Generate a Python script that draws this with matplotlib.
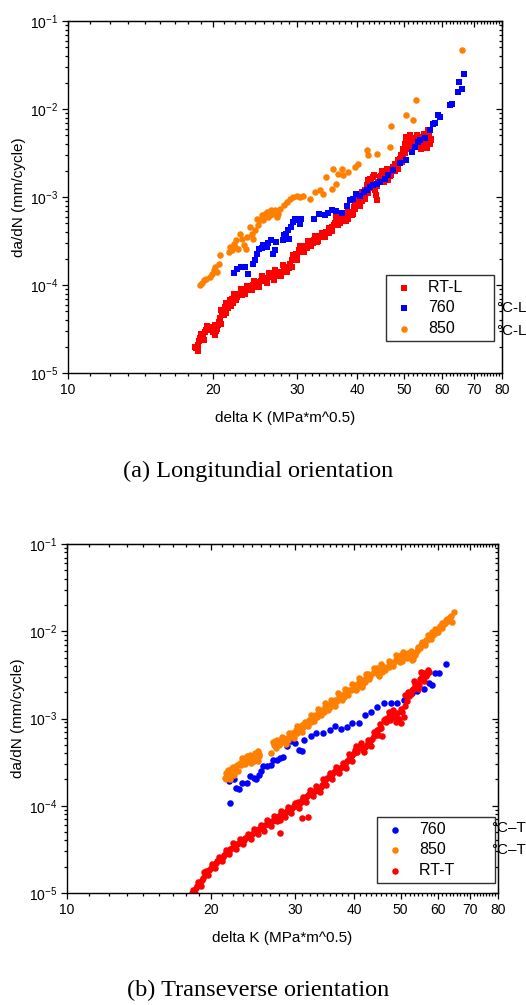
import matplotlib
matplotlib.use('Agg')
import matplotlib.pyplot as plt
from matplotlib.ticker import FixedLocator, FixedFormatter, LogLocator, NullFormatter

plt.rcParams['font.family'] = ['Liberation Sans', 'DejaVu Sans']
plt.rcParams['mathtext.fontset'] = 'custom'
plt.rcParams['mathtext.rm'] = 'Liberation Sans'
plt.rcParams['mathtext.it'] = 'Liberation Sans:italic'
plt.rcParams['mathtext.bf'] = 'Liberation Sans:bold'

# ---------------- data: (a) longitudinal ----------------
rtl_K = [18.5, 18.6, 18.8, 19.0, 19.3, 19.6, 20.1, 20.4, 20.6, 20.9, 21.2, 21.7, 22.3, 22.8, 23.5, 24.3,
         24.9, 25.5, 26.3, 27.2, 28.1, 28.5, 29.0, 29.5, 30.2, 30.9, 31.9, 32.9, 33.7, 34.5, 35.4, 36.2,
         37.1, 38.0, 38.9, 39.3, 40.2, 41.2, 41.8, 42.5, 43.2, 43.5, 43.9, 44.6, 45.3, 46.4, 47.1, 48.3,
         49.0, 49.8, 50.6, 51.4, 52.3, 53.1, 54.0, 54.8, 56.2, 57.0,
         18.4, 18.7, 18.9, 19.1, 19.4, 19.8, 20.0, 20.3, 20.5, 20.7, 21.0, 21.1, 21.4, 21.5, 21.9, 22.0,
         22.5, 22.6, 23.0, 23.2, 23.8, 24.0, 24.6, 24.7, 25.2, 25.8, 26.0, 26.6, 26.9, 27.5, 27.8, 28.3,
         28.8, 29.2, 29.8, 30.0, 30.5, 30.6, 31.3, 31.5, 32.3, 32.5, 33.2, 33.4, 34.0, 34.2, 34.9, 35.0,
         35.8, 36.0, 36.6, 36.8, 37.4, 37.6, 38.3, 38.5, 39.0, 39.6, 39.8, 40.5, 40.7, 41.0, 41.5, 42.0,
         42.2, 42.8, 43.0, 43.7, 44.2, 44.9, 45.6, 46.0, 46.8, 47.5, 47.8, 48.6, 48.7, 49.4, 49.5, 50.2,
         50.3, 50.9, 51.0, 51.8, 52.0, 52.7, 53.5, 54.4, 55.2, 55.5, 55.8, 56.5, 56.8,
         18.6, 19.2, 19.5, 20.2, 20.2, 20.8, 20.8, 21.3, 21.3, 21.8, 22.1, 22.4, 22.9, 23.4, 23.6, 24.2,
         24.4, 25.0, 25.3, 25.9, 26.2, 26.8, 27.0, 27.7, 28.0, 28.6, 29.2, 29.4, 30.0, 30.4, 31.0, 31.6,
         32.0, 32.7, 33.0, 33.8, 34.3, 35.0, 35.5, 36.2, 36.4, 37.0, 37.8, 38.2, 39.2, 39.5, 40.0, 40.9,
         41.4, 42.0, 42.6, 43.4, 44.0, 45.0, 45.5, 46.2, 47.0, 47.8, 48.5, 49.2, 49.9, 50.5, 50.8, 51.5,
         52.5, 53.3, 54.2, 55.0, 56.0, 56.6]
rtl_y = [1.9e-5, 2.1e-5, 2.5e-5, 2.7e-5, 2.9e-5, 3.05e-5, 3.05e-5, 3.2e-5, 3.8e-5, 4.7e-5, 5.6e-5, 6.7e-5,
         7.6e-5, 8.0e-5, 9.1e-5, 9.9e-5, 1.08e-4, 1.18e-4, 1.23e-4, 1.35e-4, 1.53e-4, 1.6e-4, 1.75e-4,
         2.08e-4, 2.48e-4, 2.7e-4, 3.08e-4, 3.36e-4, 3.51e-4, 4.0e-4, 4.56e-4, 5.43e-4, 5.43e-4, 5.93e-4,
         6.76e-4, 7.7e-4, 9.16e-4, 1.09e-3, 1.36e-3, 1.62e-3, 1.69e-3, 1.19e-3, 9.2e-4, 1.69e-3, 1.84e-3,
         1.55e-3, 2.01e-3, 2.39e-3, 2.73e-3, 3.54e-3, 4.4e-3, 4.6e-3, 3.7e-3, 4.4e-3, 4.8e-3, 3.7e-3,
         5.5e-3, 4.6e-3,
         2.0e-5, 2.3e-5, 2.8e-5, 2.6e-5, 3.1e-5, 3.3e-5, 2.9e-5, 3.0e-5, 3.5e-5, 4.2e-5, 5.0e-5, 4.6e-5,
         6.0e-5, 5.5e-5, 7.0e-5, 6.3e-5, 7.3e-5, 8.0e-5, 7.6e-5, 8.6e-5, 8.8e-5, 9.6e-5, 9.6e-5, 1.05e-4,
         1.1e-4, 1.13e-4, 1.2e-4, 1.28e-4, 1.25e-4, 1.4e-4, 1.38e-4, 1.48e-4, 1.58e-4, 1.9e-4, 2.25e-4,
         2.1e-4, 2.6e-4, 2.35e-4, 2.8e-4, 2.6e-4, 3.0e-4, 3.25e-4, 3.2e-4, 3.6e-4, 3.5e-4, 3.8e-4, 4.2e-4,
         3.9e-4, 4.8e-4, 5.0e-4, 5.8e-4, 5.1e-4, 5.7e-4, 6.1e-4, 5.6e-4, 6.4e-4, 6.2e-4, 7.3e-4, 8.3e-4,
         8.0e-4, 1.0e-3, 9.0e-4, 1.2e-3, 1.1e-3, 1.45e-3, 1.5e-3, 1.3e-3, 1.05e-3, 1.5e-3, 1.75e-3, 1.65e-3,
         1.9e-3, 1.75e-3, 2.2e-3, 1.95e-3, 2.2e-3, 2.6e-3, 3.0e-3, 2.5e-3, 4.0e-3, 3.2e-3, 3.8e-3, 4.7e-3,
         4.2e-3, 3.4e-3, 4.1e-3, 3.9e-3, 4.3e-3, 4.0e-3, 4.9e-3, 3.6e-3, 5.2e-3, 4.5e-3,
         1.8e-5, 2.4e-5, 3.4e-5, 2.7e-5, 3.5e-5, 3.6e-5, 5.2e-5, 4.8e-5, 6.3e-5, 5.8e-5, 7.8e-5, 6.7e-5,
         8.9e-5, 7.9e-5, 9.8e-5, 8.7e-5, 1.1e-4, 9.5e-5, 1.25e-4, 1.06e-4, 1.36e-4, 1.15e-4, 1.48e-4,
         1.25e-4, 1.7e-4, 1.42e-4, 1.62e-4, 2.2e-4, 1.9e-4, 2.75e-4, 2.4e-4, 3.2e-4, 2.75e-4, 3.6e-4,
         3.05e-4, 3.9e-4, 3.5e-4, 4.5e-4, 4.1e-4, 6.0e-4, 4.8e-4, 6.2e-4, 5.3e-4, 6.8e-4, 6.4e-4, 8.6e-4,
         7.8e-4, 1.15e-3, 9.5e-4, 1.55e-3, 1.25e-3, 1.8e-3, 1.35e-3, 1.95e-3, 1.5e-3, 2.1e-3, 1.8e-3,
         2.4e-3, 2.1e-3, 2.9e-3, 3.0e-3, 4.8e-3, 3.5e-3, 5.0e-3, 4.7e-3, 5.0e-3, 3.5e-3, 5.2e-3, 5.8e-3,
         4.0e-3]

b760l_K = [22.2, 22.5, 22.9, 23.4, 23.7, 24.3, 24.5, 24.7, 25.0, 25.3, 25.5, 25.9, 26.1, 26.5, 26.7, 26.9,
           27.1, 28.0, 28.1, 28.4, 28.7, 28.9, 29.1, 29.4, 29.7, 30.0, 30.4, 30.6, 32.5, 33.3, 34.2, 34.8,
           35.5, 36.2, 37.1, 38.0, 38.6, 39.2, 39.8, 40.5, 41.2, 41.8, 42.5, 43.2, 43.9, 44.6, 45.6, 46.4,
           47.5, 49.0, 50.6, 51.9, 52.7, 53.5, 54.0, 55.3, 56.6, 57.5, 57.9, 58.9, 59.4, 62.3, 62.9, 64.8,
           65.9, 65.1, 66.6]
b760l_y = [1.37e-4, 1.53e-4, 1.6e-4, 1.6e-4, 1.32e-4, 1.75e-4, 1.91e-4, 2.27e-4, 2.59e-4, 2.66e-4, 2.83e-4,
           2.7e-4, 3.0e-4, 3.22e-4, 2.27e-4, 2.52e-4, 3.08e-4, 3.22e-4, 3.67e-4, 3.83e-4, 4.18e-4, 3.36e-4,
           4.56e-4, 5.2e-4, 5.67e-4, 5.43e-4, 4.98e-4, 5.67e-4, 5.62e-4, 6.46e-4, 6.18e-4, 6.57e-4, 7.18e-4,
           6.93e-4, 6.57e-4, 7.84e-4, 9.16e-4, 9.57e-4, 1.09e-3, 1.04e-3, 1.14e-3, 1.19e-3, 1.3e-3, 1.36e-3,
           1.42e-3, 1.48e-3, 1.62e-3, 1.76e-3, 2.04e-3, 2.43e-3, 2.66e-3, 3.24e-3, 3.7e-3, 4.21e-3, 4.4e-3,
           4.72e-3, 5.72e-3, 6.7e-3, 6.93e-3, 8.48e-3, 8.12e-3, 1.1e-2, 1.15e-2, 1.56e-2, 1.7e-2, 2.03e-2,
           2.52e-2]

o850l_K = [18.8, 19.0, 19.2, 19.4, 19.7, 19.9, 20.1, 20.2, 20.4, 20.6, 20.7, 21.6, 21.7, 21.9, 22.1, 22.3,
           22.4, 22.6, 22.8, 23.0, 23.2, 23.5, 23.6, 23.9, 24.1, 24.3, 24.5, 24.7, 24.9, 25.1, 25.3, 25.5,
           25.7, 25.9, 26.1, 26.3, 26.5, 26.8, 27.0, 27.2, 27.4, 27.6, 28.1, 28.5, 29.0, 29.4, 29.9, 30.4,
           30.9, 31.9, 32.7, 33.4, 34.0, 34.5, 35.4, 35.6, 36.1, 36.5, 37.1, 37.4, 38.3, 39.5, 40.2, 41.8,
           42.1, 43.9, 46.7, 47.1, 50.6, 52.3, 53.1, 65.9]
o850l_y = [1.0e-4, 1.05e-4, 1.13e-4, 1.18e-4, 1.23e-4, 1.35e-4, 1.47e-4, 1.6e-4, 1.4e-4, 1.75e-4, 2.17e-4,
           2.37e-4, 2.7e-4, 2.48e-4, 2.95e-4, 2.7e-4, 3.22e-4, 2.59e-4, 3.83e-4, 3.36e-4, 2.83e-4, 2.59e-4,
           3.51e-4, 4.56e-4, 3.83e-4, 3.36e-4, 4.18e-4, 5.67e-4, 4.76e-4, 5.43e-4, 6.18e-4, 5.43e-4, 6.46e-4,
           6.76e-4, 5.93e-4, 6.18e-4, 7.06e-4, 6.46e-4, 7.06e-4, 5.93e-4, 6.46e-4, 7.37e-4, 8.05e-4, 8.78e-4,
           9.57e-4, 1.0e-3, 1.04e-3, 1.0e-3, 1.04e-3, 9.57e-4, 1.14e-3, 1.19e-3, 1.09e-3, 1.69e-3, 1.24e-3,
           2.1e-3, 1.42e-3, 1.84e-3, 2.1e-3, 1.76e-3, 1.92e-3, 2.19e-3, 2.39e-3, 3.39e-3, 2.97e-3, 3.05e-3,
           3.7e-3, 6.35e-3, 8.48e-3, 7.44e-3, 1.25e-2, 4.72e-2]

# ---------------- data: (b) transverse ----------------
b760t_K = [21.8, 22.0, 22.4, 22.6, 22.9, 23.3, 23.8, 24.2, 24.6, 24.9, 25.2, 25.5, 25.8, 26.2, 26.7, 27.0,
           27.5, 27.9, 28.4, 28.9, 29.4, 29.8, 30.1, 30.6, 31.1, 31.4, 32.4, 33.3, 34.4, 35.5, 36.5, 37.5,
           38.6, 39.6, 40.9, 42.2, 43.4, 44.6, 46.1, 47.8, 49.2, 50.8, 52.8, 54.1, 55.9, 57.3, 58.2, 59.1,
           60.1, 62.1]
b760t_y = [1.9e-4, 1.07e-4, 2.02e-4, 1.59e-4, 1.55e-4, 1.82e-4, 1.82e-4, 2.17e-4, 2.07e-4, 2.02e-4, 2.26e-4,
           2.47e-4, 2.82e-4, 2.87e-4, 2.95e-4, 3.36e-4, 3.31e-4, 3.51e-4, 3.61e-4, 4.78e-4, 5.45e-4, 5.96e-4,
           5.2e-4, 4.38e-4, 4.19e-4, 5.7e-4, 6.22e-4, 6.79e-4, 6.79e-4, 7.29e-4, 8.1e-4, 7.55e-4, 7.96e-4,
           8.84e-4, 8.98e-4, 1.1e-3, 1.18e-3, 1.37e-3, 1.5e-3, 1.5e-3, 1.52e-3, 1.64e-3, 1.95e-3, 2.04e-3,
           2.17e-3, 2.54e-3, 2.39e-3, 3.31e-3, 3.36e-3, 4.23e-3]

o850t_K = [21.4, 21.5, 21.6, 21.8, 22.0, 22.2, 22.4, 22.7, 23.0, 23.5, 23.8, 24.0, 24.2, 24.6, 24.8, 25.1,
           25.3, 26.8, 27.0, 27.3, 27.8, 28.2, 28.7, 28.9, 29.4, 29.8, 30.2, 30.7, 31.1, 31.6, 32.1, 32.6,
           33.1, 33.7, 34.2, 34.8, 35.3, 35.9, 36.5, 37.1, 37.7, 38.3, 38.9, 39.9, 40.5, 41.2, 41.8, 42.4,
           43.2, 44.3, 45.0, 45.7, 46.8, 47.6, 48.4, 49.2, 50.0, 50.8, 51.8, 52.8, 53.7, 54.3, 55.2, 56.4,
           57.3, 58.2, 59.1, 60.1, 61.1, 62.1, 63.4, 64.1, 64.8,
           21.5, 21.7, 21.9, 22.1, 22.3, 22.6, 23.2, 23.6, 24.1, 24.4, 24.7, 25.0, 25.2, 27.2, 27.6, 28.0,
           28.4, 29.0, 29.6, 30.0, 30.4, 30.9, 31.3, 31.9, 32.4, 32.9, 33.4, 34.0, 34.5, 35.0, 35.6, 36.2,
           36.8, 37.4, 38.0, 38.6, 39.3, 40.2, 40.9, 41.5, 42.1, 42.8, 43.7, 44.6, 45.3, 46.1, 47.2, 48.0,
           48.8, 49.6, 50.4, 51.3, 52.3, 53.2, 54.0, 54.8, 55.8, 56.8, 57.8, 58.6, 59.6, 60.6, 61.6, 62.6,
           63.8,
           22.0, 22.8, 23.3, 24.3, 24.9, 25.1, 27.4, 28.2, 28.8, 29.2, 29.9, 30.4, 31.0, 31.5, 32.0, 32.5,
           33.0, 33.6, 34.1, 34.7, 35.2, 35.8, 36.4, 37.0, 37.6, 38.2, 38.8, 39.6, 40.4, 41.0, 41.6, 42.3,
           43.0, 44.0, 44.8, 45.5, 46.4, 47.3, 48.1, 49.0, 49.8, 50.6, 51.6, 52.6, 53.5, 54.5, 55.4, 56.2,
           57.1, 58.0, 59.0, 60.0, 61.0, 62.0, 63.0]
o850t_y = [2.07e-4, 2.37e-4, 2.17e-4, 2.47e-4, 2.37e-4, 2.7e-4, 2.26e-4, 2.95e-4, 3.08e-4, 3.36e-4, 3.67e-4,
           3.51e-4, 3.84e-4, 3.67e-4, 4.01e-4, 4.19e-4, 3.67e-4, 4.01e-4, 5.31e-4, 5.45e-4, 4.99e-4, 5.7e-4,
           5.45e-4, 5.96e-4, 6.22e-4, 6.5e-4, 7.42e-4, 7.75e-4, 8.46e-4, 8.84e-4, 9.66e-4, 1.05e-3, 1.1e-3,
           1.2e-3, 1.26e-3, 1.37e-3, 1.43e-3, 1.5e-3, 1.64e-3, 1.79e-3, 1.87e-3, 1.95e-3, 2.13e-3, 2.33e-3,
           2.23e-3, 2.54e-3, 2.77e-3, 2.9e-3, 3.03e-3, 3.45e-3, 3.03e-3, 3.45e-3, 3.94e-3, 4.3e-3, 4.5e-3,
           4.91e-3, 5.36e-3, 5.13e-3, 5.6e-3, 4.7e-3, 5.36e-3, 6.68e-3, 6.98e-3, 7.96e-3, 8.54e-3, 9.91e-3,
           9.5e-3, 1.08e-2, 1.23e-2, 1.35e-2, 1.47e-2, 1.29e-2, 1.68e-2,
           2.0e-4, 2.6e-4, 2.2e-4, 2.5e-4, 2.8e-4, 2.6e-4, 2.9e-4, 3.0e-4, 3.3e-4, 3.5e-4, 3.3e-4, 3.6e-4,
           3.9e-4, 5.0e-4, 5.6e-4, 5.2e-4, 5.9e-4, 5.7e-4, 6.8e-4, 7.0e-4, 6.9e-4, 7.3e-4, 8.0e-4, 8.5e-4,
           9.0e-4, 1.0e-3, 1.05e-3, 1.15e-3, 1.2e-3, 1.3e-3, 1.35e-3, 1.5e-3, 1.6e-3, 1.75e-3, 1.75e-3,
           2.0e-3, 2.1e-3, 2.4e-3, 2.6e-3, 2.4e-3, 2.6e-3, 3.2e-3, 3.3e-3, 3.8e-3, 3.6e-3, 3.9e-3, 3.9e-3,
           4.2e-3, 4.7e-3, 5.0e-3, 4.6e-3, 5.4e-3, 5.2e-3, 4.8e-3, 6.0e-3, 6.4e-3, 7.3e-3, 8.0e-3, 8.8e-3,
           9.0e-3, 1.0e-2, 1.15e-2, 1.2e-2, 1.4e-2, 1.5e-2,
           2.0e-4, 2.5e-4, 3.5e-4, 3.1e-4, 3.8e-4, 3.3e-4, 4.6e-4, 6.2e-4, 5.1e-4, 6.8e-4, 6.0e-4, 8.2e-4,
           7.0e-4, 9.2e-4, 8.2e-4, 1.1e-3, 9.4e-4, 1.3e-3, 1.1e-3, 1.5e-3, 1.25e-3, 1.65e-3, 1.4e-3, 1.95e-3,
           1.65e-3, 2.15e-3, 1.85e-3, 2.5e-3, 2.1e-3, 2.9e-3, 2.3e-3, 3.2e-3, 2.8e-3, 3.8e-3, 3.2e-3, 4.2e-3,
           3.6e-3, 4.6e-3, 4.0e-3, 5.3e-3, 4.5e-3, 5.8e-3, 5.0e-3, 5.9e-3, 5.7e-3, 6.2e-3, 7.6e-3, 7.0e-3,
           9.0e-3, 8.2e-3, 1.05e-2, 9.8e-3, 1.1e-2, 1.25e-2, 1.3e-2]

rtt_K = [18.3, 18.4, 18.7, 19.0, 19.3, 19.6, 20.0, 20.3, 20.6, 21.0, 21.3, 21.6, 22.0, 22.4, 22.7, 23.1,
         23.5, 23.8, 24.2, 24.6, 25.0, 25.4, 25.8, 26.2, 26.7, 27.1, 27.5, 28.0, 28.0, 28.4, 28.9, 29.4,
         29.9, 30.3, 30.8, 31.3, 31.8, 32.4, 32.9, 33.4, 34.0, 34.5, 35.1, 35.6, 36.2, 36.8, 37.4, 38.0,
         38.6, 39.3, 39.9, 40.5, 41.2, 41.8, 42.5, 43.2, 43.9, 44.6, 45.4, 45.7, 46.1, 46.8, 47.6, 48.4,
         49.2, 50.0, 50.8, 51.2, 52.0, 52.8, 53.7, 54.6, 55.5, 56.4, 57.3, 53.7, 28.0, 31.1, 32.0,
         18.5, 18.6, 18.9, 19.2, 19.5, 19.8, 20.1, 20.5, 20.8, 21.2, 21.5, 21.8, 22.2, 22.5, 22.9, 23.3,
         23.6, 24.0, 24.4, 24.8, 25.2, 25.6, 26.0, 26.4, 26.9, 27.3, 27.8, 28.2, 28.7, 29.1, 29.6, 30.1,
         30.5, 31.0, 31.5, 32.1, 32.6, 33.1, 33.7, 34.2, 34.8, 35.4, 35.9, 36.5, 37.1, 37.7, 38.3, 38.9,
         39.6, 40.2, 40.8, 41.5, 42.1, 42.8, 43.5, 44.2, 45.0, 46.4, 47.2, 48.0, 48.8, 49.6, 50.4, 51.6,
         52.4, 53.2, 54.1, 55.0, 55.9, 56.8,
         18.4, 18.8, 19.1, 19.4, 19.7, 20.1, 20.4, 20.8, 21.1, 21.5, 21.9, 22.3, 22.6, 23.0, 23.4, 23.9,
         24.3, 24.7, 25.1, 25.5, 25.9, 26.3, 26.8, 27.2, 27.6, 28.1, 28.6, 29.0, 29.5, 30.0, 30.6, 31.2,
         31.7, 32.3, 32.8, 33.3, 33.9, 34.4, 34.9, 35.5, 36.0, 36.7, 37.2, 37.9, 38.4, 39.0, 39.6, 40.3,
         40.6, 41.3, 42.0, 42.7, 43.3, 44.0, 44.8, 45.2, 46.6, 47.4, 48.2, 49.0, 50.2, 51.0, 51.8, 52.6,
         53.4, 54.4, 55.2, 56.0, 57.0]
rtt_y = [1.0e-5, 1.09e-5, 1.19e-5, 1.3e-5, 1.49e-5, 1.77e-5, 1.93e-5, 2.11e-5, 2.31e-5, 2.52e-5, 2.75e-5,
         2.92e-5, 3.19e-5, 3.42e-5, 3.67e-5, 3.9e-5, 4.08e-5, 4.38e-5, 4.66e-5, 4.95e-5, 5.22e-5, 5.55e-5,
         5.8e-5, 6.22e-5, 6.44e-5, 6.92e-5, 7.42e-5, 6.92e-5, 7.88e-5, 8.24e-5, 8.61e-5, 9.16e-5, 9.82e-5,
         1.03e-4, 1.07e-4, 1.12e-4, 1.28e-4, 1.4e-4, 1.46e-4, 1.52e-4, 1.66e-4, 1.82e-4, 2.07e-4, 2.26e-4,
         2.41e-4, 2.58e-4, 2.7e-4, 2.82e-4, 3.22e-4, 3.67e-4, 4.01e-4, 4.57e-4, 4.78e-4, 4.38e-4, 4.99e-4,
         5.45e-4, 6.22e-4, 7.42e-4, 7.75e-4, 6.22e-4, 9.66e-4, 1.01e-3, 9.66e-4, 1.1e-3, 1.15e-3, 8.84e-4,
         1.05e-3, 1.87e-3, 1.79e-3, 2.13e-3, 2.33e-3, 2.43e-3, 3.03e-3, 3.03e-3, 3.45e-3, 2.54e-3, 4.87e-5,
         7.2e-5, 7.4e-5,
         1.0e-5, 1.15e-5, 1.25e-5, 1.4e-5, 1.6e-5, 1.85e-5, 2.0e-5, 2.2e-5, 2.4e-5, 2.6e-5, 2.85e-5, 3.05e-5,
         3.3e-5, 3.5e-5, 3.75e-5, 4.0e-5, 4.25e-5, 4.5e-5, 4.8e-5, 5.1e-5, 5.4e-5, 5.7e-5, 6.0e-5, 6.3e-5,
         6.7e-5, 7.1e-5, 7.6e-5, 8.0e-5, 8.4e-5, 8.9e-5, 9.4e-5, 1.0e-4, 1.1e-4, 1.15e-4, 1.2e-4, 1.35e-4,
         1.43e-4, 1.49e-4, 1.6e-4, 1.74e-4, 1.95e-4, 2.15e-4, 2.33e-4, 2.5e-4, 2.64e-4, 2.76e-4, 3.0e-4,
         3.45e-4, 3.85e-4, 4.3e-4, 4.7e-4, 4.6e-4, 4.7e-4, 5.2e-4, 5.8e-4, 6.8e-4, 7.6e-4, 9.9e-4, 1.2e-3,
         1.05e-3, 9.0e-4, 1.0e-3, 1.2e-3, 1.6e-3, 1.95e-3, 2.2e-3, 2.5e-3, 2.8e-3, 3.3e-3, 3.2e-3,
         1.0e-5, 1.35e-5, 1.2e-5, 1.75e-5, 1.6e-5, 2.15e-5, 1.95e-5, 2.6e-5, 2.35e-5, 3.1e-5, 2.8e-5, 3.7e-5,
         3.2e-5, 4.2e-5, 3.6e-5, 4.7e-5, 4.2e-5, 5.4e-5, 4.7e-5, 6.0e-5, 5.2e-5, 6.8e-5, 5.8e-5, 7.7e-5,
         6.6e-5, 8.7e-5, 7.4e-5, 9.6e-5, 8.2e-5, 1.08e-4, 9.4e-5, 1.25e-4, 1.1e-4, 1.5e-4, 1.28e-4, 1.7e-4,
         1.45e-4, 2.0e-4, 1.75e-4, 2.4e-4, 2.05e-4, 2.8e-4, 2.4e-4, 3.1e-4, 2.7e-4, 3.9e-4, 3.3e-4, 4.9e-4,
         4.1e-4, 5.2e-4, 4.1e-4, 5.6e-4, 4.9e-4, 7.0e-4, 6.5e-4, 8.6e-4, 9.0e-4, 1.1e-3, 1.25e-3, 1.05e-3,
         1.3e-3, 1.4e-3, 2.0e-3, 1.9e-3, 2.7e-3, 2.2e-3, 3.4e-3, 2.7e-3, 3.6e-3]

# ---------------- axes setup ----------------
x_major = [10, 20, 30, 40, 50, 60, 70, 80]
x_labels = ['10', '20', '30', '40', '50', '60', '70', '80']
y_major = [1e-5, 1e-4, 1e-3, 1e-2, 1e-1]
y_labels = ['$10^{-5}$', '$10^{-4}$', '$10^{-3}$', '$10^{-2}$', '$10^{-1}$']
x_minor = [a + k * 10.0 / 9.0 for a in range(10, 80, 10) for k in range(1, 9)]

RED = '#FF0000'
BLUE = '#0000FF'
ORANGE = '#FF8000'
NB = '\u00a0'
SQ = 17
CI = 22

fig = plt.figure(figsize=(5.26, 10.05), dpi=100)


def style_axes(ax):
    ax.set_xscale('log')
    ax.set_yscale('log')
    ax.set_xlim(10, 80)
    ax.set_ylim(1e-5, 1e-1)
    ax.xaxis.set_major_locator(FixedLocator(x_major))
    ax.xaxis.set_major_formatter(FixedFormatter(x_labels))
    ax.xaxis.set_minor_locator(FixedLocator(x_minor))
    ax.xaxis.set_minor_formatter(NullFormatter())
    ax.yaxis.set_major_locator(FixedLocator(y_major))
    ax.yaxis.set_major_formatter(FixedFormatter(y_labels))
    ax.yaxis.set_minor_locator(LogLocator(base=10, subs=range(2, 10), numticks=20))
    ax.yaxis.set_minor_formatter(NullFormatter())
    ax.tick_params(which='major', direction='out', length=4, width=0.9, labelsize=10, pad=3)
    ax.tick_params(which='minor', direction='out', length=2.2, width=0.9)
    for s in ax.spines.values():
        s.set_linewidth(1.0)
    sx = ax.secondary_xaxis('top')
    sx.xaxis.set_major_locator(FixedLocator(x_major))
    sx.xaxis.set_minor_locator(FixedLocator(x_minor))
    sx.xaxis.set_major_formatter(NullFormatter())
    sx.xaxis.set_minor_formatter(NullFormatter())
    sx.tick_params(which='major', direction='in', length=4, width=0.9)
    sx.tick_params(which='minor', direction='in', length=2.2, width=0.9)
    sy = ax.secondary_yaxis('right')
    sy.yaxis.set_major_locator(FixedLocator(y_major))
    sy.yaxis.set_minor_locator(LogLocator(base=10, subs=range(2, 10), numticks=20))
    sy.yaxis.set_major_formatter(NullFormatter())
    sy.yaxis.set_minor_formatter(NullFormatter())
    sy.tick_params(which='major', direction='in', length=4, width=0.9)
    sy.tick_params(which='minor', direction='in', length=2.2, width=0.9)
    ax.set_xlabel('delta K (MPa*m^0.5)', fontsize=11, labelpad=10)
    ax.set_ylabel('da/dN (mm/cycle)', fontsize=11, labelpad=2.5)


leg_kw = dict(frameon=True, fancybox=False, framealpha=1, edgecolor='#303030', fontsize=11.5,
              borderpad=0.3, labelspacing=0.35, handlelength=1.6, handletextpad=0.75,
              borderaxespad=0, scatterpoints=1)

# ---- (a) ----
ax1 = fig.add_axes([68 / 526, 1 - 373 / 1005, 434 / 526, 352 / 1005])
ax1.scatter(rtl_K, rtl_y, marker='s', s=SQ, c=RED, linewidths=0, label='RT-L' + NB * 6)
ax1.scatter(b760l_K, b760l_y, marker='s', s=SQ, c=BLUE, linewidths=0, label='760')
ax1.scatter(o850l_K, o850l_y, marker='o', s=CI, c=ORANGE, linewidths=0, label='850')
style_axes(ax1)
lg1 = ax1.legend(loc='upper left', bbox_to_anchor=((386 - 68) / 434, (373 - 275) / 352), **leg_kw)
lg1.get_frame().set_linewidth(1.0)
fig.text(496 / 526, 1 - 308 / 1005, '°C-L', fontsize=11, va='center', ha='left')
fig.text(496 / 526, 1 - 331 / 1005, '°C-L', fontsize=11, va='center', ha='left')
fig.text(258 / 526, 1 - 471 / 1005, '(a) Longitundial orientation', fontsize=17.5,
         family='Liberation Serif', ha='center', va='center')

# ---- (b) ----
ax2 = fig.add_axes([67 / 526, 1 - 893 / 1005, 431 / 526, 349 / 1005])
ax2.scatter(b760t_K, b760t_y, marker='o', s=CI, c=BLUE, linewidths=0, label='760')
ax2.scatter(o850t_K, o850t_y, marker='o', s=CI, c=ORANGE, linewidths=0, label='850')
ax2.scatter(rtt_K, rtt_y, marker='o', s=CI, c=RED, linewidths=0, label='RT-T' + NB * 8)
style_axes(ax2)
lg2 = ax2.legend(loc='upper left', bbox_to_anchor=((377 - 67) / 431, (893 - 817) / 349), **leg_kw)
lg2.get_frame().set_linewidth(1.0)
fig.text(491 / 526, 1 - 828 / 1005, '°C–T', fontsize=11, va='center', ha='left')
fig.text(491 / 526, 1 - 850 / 1005, '°C–T', fontsize=11, va='center', ha='left')
fig.text(258 / 526, 1 - 990 / 1005, '(b) Transeverse orientation', fontsize=17.5,
         family='Liberation Serif', ha='center', va='center')

fig.savefig('out.png', dpi=100)
